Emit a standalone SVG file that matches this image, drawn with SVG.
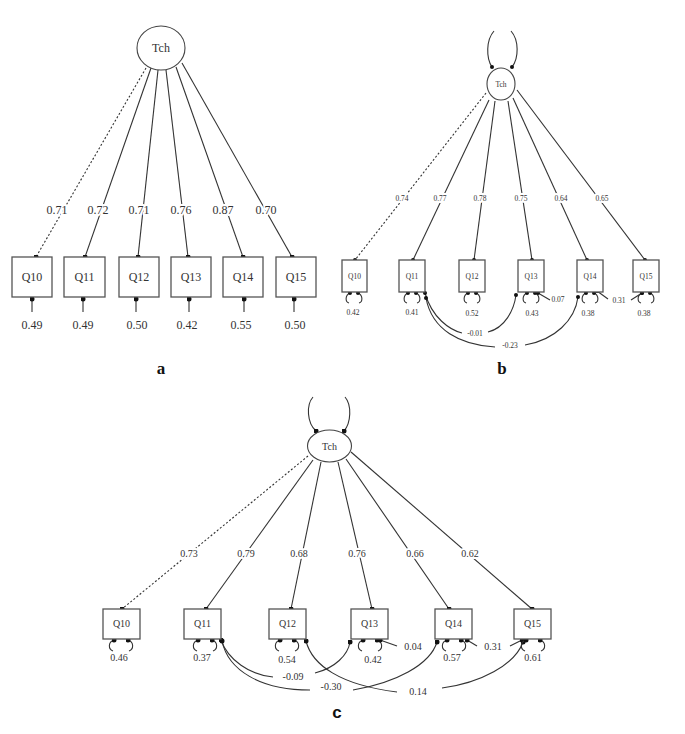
<svg xmlns="http://www.w3.org/2000/svg" width="685" height="734" viewBox="0 0 685 734">
<defs>
<marker id="dA" viewBox="0 0 6 6" refX="3" refY="3" markerWidth="5" markerHeight="5" markerUnits="userSpaceOnUse"><circle cx="3" cy="3" r="3" fill="#111"/></marker>
<marker id="dB" viewBox="0 0 6 6" refX="3" refY="3" markerWidth="4" markerHeight="4" markerUnits="userSpaceOnUse"><circle cx="3" cy="3" r="3" fill="#111"/></marker>
<style>
.ln{stroke:#333;stroke-width:1.1;fill:none}
.dot{stroke-dasharray:2,2}
.bx{fill:#fff;stroke:#555;stroke-width:1.3}
.lat{fill:#fff;stroke:#444;stroke-width:1.1}
text{font-family:"Liberation Serif","Times New Roman",serif;fill:#333;text-anchor:middle}
.ta{font-size:12px}
.tb{font-size:7.5px}
.tc{font-size:10px}
.halo{stroke:#fff;stroke-width:4;paint-order:stroke;stroke-linejoin:round}
.cap{font-weight:bold;font-size:17px;fill:#111}
</style>
</defs>
<rect width="685" height="734" fill="#fff"/>

<g id="connectors">
<!-- panel a -->
<g class="ln" marker-end="url(#dA)">
<line class="dot" x1="146" y1="68" x2="36" y2="257"/>
<line x1="151" y1="68" x2="85" y2="257"/>
<line x1="158" y1="70" x2="138" y2="257"/>
<line x1="166" y1="70" x2="188" y2="257"/>
<line x1="176" y1="67" x2="243" y2="257"/>
<line x1="182" y1="63" x2="292" y2="257"/>
<line x1="32" y1="312" x2="32" y2="299"/>
<line x1="83" y1="312" x2="83" y2="299"/>
<line x1="136" y1="312" x2="136" y2="299"/>
<line x1="189" y1="312" x2="189" y2="299"/>
<line x1="244" y1="312" x2="244" y2="299"/>
<line x1="294" y1="312" x2="294" y2="299"/>
</g>
<!-- panel b -->
<g class="ln" marker-end="url(#dB)">
<line class="dot" x1="486" y1="93" x2="355" y2="260"/>
<line x1="489" y1="100" x2="413" y2="260"/>
<line x1="495" y1="101" x2="474" y2="260"/>
<line x1="508" y1="101" x2="532" y2="260"/>
<line x1="513" y1="98" x2="587" y2="260"/>
<line x1="517" y1="90" x2="645" y2="260"/>
<path d="M494,31 C486,40 486,58 492,67"/>
<path d="M511,31 C519,40 519,58 512,67"/>
</g>
<g class="ln" marker-start="url(#dB)">
<path d="M350,293 C345,295 345,302 349,303"/>
<path d="M358,293 C363,295 363,302 359,303"/>
<path d="M408,293 C403,295 403,302 407,303"/>
<path d="M416,293 C421,295 421,302 417,303"/>
<path d="M468,293 C463,295 463,302 467,303"/>
<path d="M476,293 C481,295 481,302 477,303"/>
<path d="M527,293 C522,295 522,302 526,303"/>
<path d="M535,293 C540,295 540,302 536,303"/>
<path d="M586,293 C581,295 581,302 585,303"/>
<path d="M594,293 C599,295 599,302 595,303"/>
<path d="M642,293 C637,295 637,302 641,303"/>
<path d="M650,293 C655,295 655,302 651,303"/>
<path d="M425,293 C432,318 450,330 462,333"/>
<path d="M426,298 C432,330 460,345 495,347"/>
<path d="M538,293 L550,300"/>
<path d="M597,291 L608,299"/>
</g>
<g class="ln" marker-end="url(#dB)">
<path d="M488,332 C505,328 514,310 516,295"/>
<path d="M525,345 C555,340 575,320 578,297"/>
<path d="M631,300 L642,293"/>
</g>
<!-- panel c -->
<g class="ln" marker-end="url(#dA)">
<line class="dot" x1="308" y1="456" x2="122" y2="609"/>
<line x1="313" y1="460" x2="206" y2="609"/>
<line x1="321" y1="462" x2="291" y2="609"/>
<line x1="338" y1="462" x2="372" y2="609"/>
<line x1="346" y1="459" x2="449" y2="609"/>
<line x1="351" y1="452" x2="532" y2="609"/>
<path d="M313,397 C306,405 307,423 316,431"/>
<path d="M345,397 C352,405 351,423 344,431"/>
<path d="M315,673 C335,668 348,655 350,642"/>
<path d="M353,690 C395,683 430,665 437,642"/>
<path d="M442,688 C480,683 515,665 523,642"/>
<path d="M510,646 L522,640"/>
</g>
<g class="ln" marker-start="url(#dA)">
<path d="M114,640 C108,642 108,649 113,651"/>
<path d="M128,640 C134,642 134,649 129,651"/>
<path d="M198,640 C192,642 192,649 197,651"/>
<path d="M212,640 C218,642 218,649 213,651"/>
<path d="M280,640 C274,642 274,649 279,651"/>
<path d="M294,640 C300,642 300,649 295,651"/>
<path d="M363,640 C357,642 357,649 362,651"/>
<path d="M377,640 C383,642 383,649 378,651"/>
<path d="M447,640 C441,642 441,649 446,651"/>
<path d="M461,640 C467,642 467,649 462,651"/>
<path d="M526,640 C520,642 520,649 525,651"/>
<path d="M540,640 C546,642 546,649 541,651"/>
<path d="M221,640 C228,660 250,675 273,677"/>
<path d="M222,641 C228,670 260,690 310,690"/>
<path d="M306,641 C312,665 340,685 397,692"/>
<path d="M380,640 L397,646"/>
<path d="M467,640 L477,646"/>
</g>
</g>

<!-- loading labels -->
<g id="labels-a" class="ta">
<text class="halo" x="57" y="214">0.71</text>
<text class="halo" x="98" y="214">0.72</text>
<text class="halo" x="139" y="214">0.71</text>
<text class="halo" x="181" y="214">0.76</text>
<text class="halo" x="223" y="214">0.87</text>
<text class="halo" x="266" y="214">0.70</text>
<text x="32" y="329">0.49</text>
<text x="83" y="329">0.49</text>
<text x="137" y="329">0.50</text>
<text x="187" y="329">0.42</text>
<text x="241" y="329">0.55</text>
<text x="295" y="329">0.50</text>
</g>
<g id="labels-b" class="tb">
<text class="halo" x="402" y="201">0.74</text>
<text class="halo" x="440" y="201">0.77</text>
<text class="halo" x="480" y="201">0.78</text>
<text class="halo" x="521" y="201">0.75</text>
<text class="halo" x="561" y="201">0.64</text>
<text class="halo" x="602" y="201">0.65</text>
<text x="353" y="315">0.42</text>
<text x="412" y="315">0.41</text>
<text x="472" y="316">0.52</text>
<text x="532" y="316">0.43</text>
<text x="588" y="316">0.38</text>
<text x="644" y="316">0.38</text>
<text x="558" y="302">0.07</text>
<text x="619" y="303">0.31</text>
<text x="475" y="336">-0.01</text>
<text x="510" y="348">-0.23</text>
</g>
<g id="labels-c" class="tc">
<text class="halo" x="189" y="557">0.73</text>
<text class="halo" x="246" y="557">0.79</text>
<text class="halo" x="299" y="557">0.68</text>
<text class="halo" x="357" y="557">0.76</text>
<text class="halo" x="415" y="557">0.66</text>
<text class="halo" x="470" y="557">0.62</text>
<text x="119" y="661">0.46</text>
<text x="202" y="661">0.37</text>
<text x="287" y="663">0.54</text>
<text x="373" y="663">0.42</text>
<text x="452" y="661">0.57</text>
<text x="533" y="661">0.61</text>
<text x="413" y="650">0.04</text>
<text x="493" y="650">0.31</text>
<text x="293" y="680">-0.09</text>
<text x="331" y="690">-0.30</text>
<text x="418" y="695">0.14</text>
</g>

<!-- panel a nodes -->
<g id="a-Tch"><ellipse class="lat" cx="161" cy="48" rx="24" ry="22"/><text class="ta" x="161" y="52">Tch</text></g>
<g id="a-Q10"><rect class="bx" x="12" y="257" width="40" height="40"/><text class="ta" x="32" y="281">Q10</text></g>
<g id="a-Q11"><rect class="bx" x="64" y="257" width="41" height="40"/><text class="ta" x="84.5" y="281">Q11</text></g>
<g id="a-Q12"><rect class="bx" x="119" y="257" width="40" height="40"/><text class="ta" x="139" y="281">Q12</text></g>
<g id="a-Q13"><rect class="bx" x="171" y="257" width="40" height="40"/><text class="ta" x="191" y="281">Q13</text></g>
<g id="a-Q14"><rect class="bx" x="223" y="257" width="40" height="40"/><text class="ta" x="243" y="281">Q14</text></g>
<g id="a-Q15"><rect class="bx" x="276" y="257" width="40" height="40"/><text class="ta" x="296" y="281">Q15</text></g>

<!-- panel b nodes -->
<g id="b-Tch"><ellipse class="lat" cx="501" cy="84" rx="14" ry="16"/><text class="tb" x="501" y="87">Tch</text></g>
<g id="b-Q10"><rect class="bx" x="342" y="260" width="25" height="32"/><text class="tb" x="354.5" y="279">Q10</text></g>
<g id="b-Q11"><rect class="bx" x="399" y="260" width="26" height="32"/><text class="tb" x="412" y="279">Q11</text></g>
<g id="b-Q12"><rect class="bx" x="459" y="260" width="26" height="32"/><text class="tb" x="472" y="279">Q12</text></g>
<g id="b-Q13"><rect class="bx" x="518" y="260" width="26" height="32"/><text class="tb" x="531" y="279">Q13</text></g>
<g id="b-Q14"><rect class="bx" x="577" y="260" width="26" height="32"/><text class="tb" x="590" y="279">Q14</text></g>
<g id="b-Q15"><rect class="bx" x="633" y="260" width="26" height="32"/><text class="tb" x="646" y="279">Q15</text></g>

<!-- panel c nodes -->
<g id="c-Tch"><ellipse class="lat" cx="329.5" cy="446" rx="22" ry="16"/><text class="tc" x="329.5" y="450">Tch</text></g>
<g id="c-Q10"><rect class="bx" x="103" y="609" width="37" height="30"/><text class="tc" x="121.5" y="627">Q10</text></g>
<g id="c-Q11"><rect class="bx" x="184" y="609" width="37" height="30"/><text class="tc" x="202.5" y="627">Q11</text></g>
<g id="c-Q12"><rect class="bx" x="269" y="609" width="37" height="30"/><text class="tc" x="287.5" y="627">Q12</text></g>
<g id="c-Q13"><rect class="bx" x="351" y="609" width="37" height="30"/><text class="tc" x="369.5" y="627">Q13</text></g>
<g id="c-Q14"><rect class="bx" x="435" y="609" width="37" height="30"/><text class="tc" x="453.5" y="627">Q14</text></g>
<g id="c-Q15"><rect class="bx" x="514" y="609" width="37" height="30"/><text class="tc" x="532.5" y="627">Q15</text></g>

<text class="cap" x="161" y="374">a</text>
<text class="cap" x="502" y="374">b</text>
<text class="cap" x="337" y="718" style="font-family:'Liberation Sans',Arial,sans-serif">c</text>
</svg>
